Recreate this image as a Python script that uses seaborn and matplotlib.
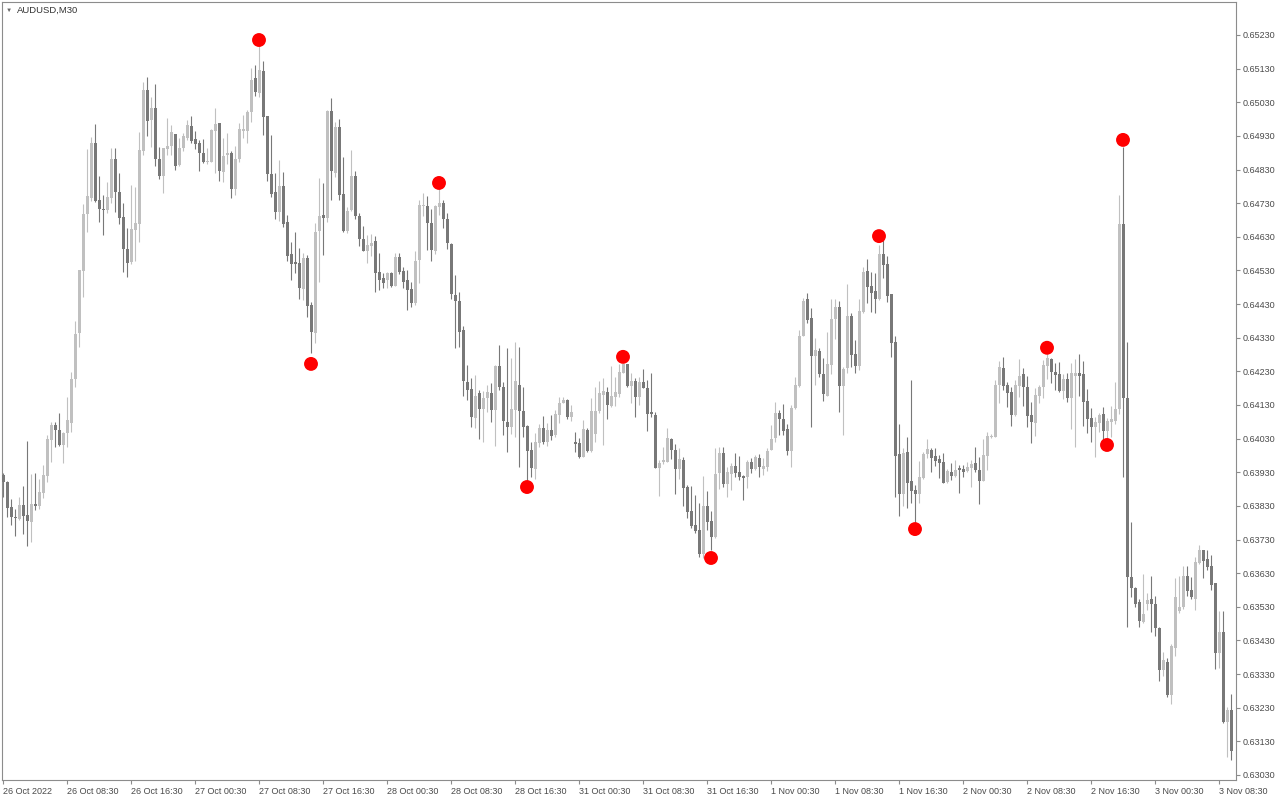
import numpy as np
import pandas as pd
import matplotlib
matplotlib.use("Agg")
import matplotlib.pyplot as plt
import seaborn as sns

symbol_title = "AUDUSD,M30"

time_labels = ["26 Oct 2022", "26 Oct 08:30", "26 Oct 16:30", "27 Oct 00:30", "27 Oct 08:30",
               "27 Oct 16:30", "28 Oct 00:30", "28 Oct 08:30", "28 Oct 16:30", "31 Oct 00:30",
               "31 Oct 08:30", "31 Oct 16:30", "1 Nov 00:30", "1 Nov 08:30", "1 Nov 16:30",
               "2 Nov 00:30", "2 Nov 08:30", "2 Nov 16:30", "3 Nov 00:30", "3 Nov 08:30"]
time_label_bars = [0, 16, 32, 48, 64, 80, 96, 112, 128, 144, 160, 176, 192, 208, 224, 240, 256, 272, 288, 304]

price_ticks = [0.63030, 0.63130, 0.63230, 0.63330, 0.63430, 0.63530, 0.63630, 0.63730,
               0.63830, 0.63930, 0.64030, 0.64130, 0.64230, 0.64330, 0.64430, 0.64530,
               0.64630, 0.64730, 0.64830, 0.64930, 0.65030, 0.65130, 0.65230]

open_ = [
0.63922,0.63901,0.63827,0.63797,0.63791,0.63833,0.63803,0.63782,0.63836,0.63830,
0.63868,0.63919,0.64026,0.64070,0.64056,0.64011,0.64047,0.64076,0.64207,0.64344,
0.64528,0.64698,0.64745,0.64909,0.64739,0.64713,0.64710,0.64745,0.64861,0.64763,
0.64689,0.64594,0.64555,0.64650,0.64668,0.64885,0.65066,0.64977,0.65013,0.64861,
0.64811,0.64891,0.64900,0.64936,0.64844,0.64894,0.64924,0.64959,0.64921,0.64909,
0.64879,0.64852,0.64852,0.64945,0.64968,0.64823,0.64873,0.64879,0.64772,0.64861,
0.64945,0.64945,0.65001,0.65102,0.65058,0.65123,0.64989,0.64817,0.64763,0.64704,
0.64781,0.64674,0.64579,0.64555,0.64552,0.64475,0.64567,0.64427,0.64344,0.64647,
0.64695,0.64686,0.65004,0.64820,0.64956,0.64757,0.64647,0.64710,0.64811,0.64692,
0.64623,0.64588,0.64603,0.64618,0.64525,0.64508,0.64502,0.64522,0.64484,0.64570,
0.64528,0.64502,0.64475,0.64433,0.64561,0.64722,0.64722,0.64671,0.64588,0.64719,
0.64731,0.64683,0.64609,0.64457,0.64439,0.64353,0.64198,0.64178,0.64091,0.64166,
0.64118,0.64151,0.64166,0.64115,0.64246,0.64183,0.64079,0.64065,0.64115,0.64190,
0.64112,0.64068,0.63996,0.63940,0.64017,0.64062,0.64020,0.64056,0.64041,0.64100,
0.64136,0.64145,0.64094,0.64020,0.64017,0.63975,0.64056,0.63993,0.64044,0.64112,
0.64160,0.64169,0.64127,0.64154,0.64163,0.64225,0.64252,0.64186,0.64201,0.64154,
0.64198,0.64181,0.64109,0.64100,0.63943,0.63960,0.63960,0.64029,0.63996,0.63940,
0.63966,0.63886,0.63815,0.63773,0.63758,0.63687,0.63830,0.63785,0.63737,0.63928,
0.63987,0.63895,0.63925,0.63949,0.63931,0.63919,0.63916,0.63960,0.63940,0.63972,
0.63940,0.63946,0.63996,0.64032,0.64106,0.64088,0.64059,0.63993,0.64121,0.64186,
0.64335,0.64445,0.64389,0.64276,0.64291,0.64222,0.64157,0.64249,0.64386,0.64421,
0.64186,0.64240,0.64395,0.64282,0.64246,0.64407,0.64528,0.64484,0.64469,0.64445,
0.64579,0.64549,0.64460,0.64317,0.63984,0.63865,0.63990,0.63904,0.63877,0.63865,
0.63913,0.63984,0.63996,0.63978,0.63969,0.63960,0.63901,0.63931,0.63919,0.63943,
0.63940,0.63934,0.63943,0.63958,0.63937,0.63904,0.63978,0.64035,0.64035,0.64190,
0.64240,0.64190,0.64169,0.64100,0.64186,0.64222,0.64183,0.64100,0.64076,0.64157,
0.64183,0.64246,0.64267,0.64228,0.64222,0.64172,0.64207,0.64151,0.64216,0.64225,
0.64222,0.64142,0.64091,0.64065,0.64076,0.64103,0.64053,0.64079,0.64082,0.64118,
0.64668,0.64151,0.63619,0.63586,0.63544,0.63485,0.63538,0.63553,0.63538,0.63467,
0.63342,0.63366,0.63268,0.63407,0.63518,0.63529,0.63622,0.63580,0.63553,0.63660,
0.63699,0.63672,0.63651,0.63601,0.63393,0.63455,0.63188,0.63223]

high_ = [
0.63928,0.63904,0.63850,0.63821,0.63856,0.63889,0.64023,0.63925,0.63928,0.63910,
0.63952,0.64041,0.64079,0.64079,0.64106,0.64050,0.64154,0.64228,0.64380,0.64531,
0.64728,0.64891,0.64927,0.64965,0.64811,0.64754,0.64793,0.64894,0.64894,0.64820,
0.64731,0.64656,0.64784,0.64778,0.64942,0.65090,0.65105,0.65046,0.65084,0.64897,
0.64894,0.64983,0.64962,0.64936,0.64924,0.64939,0.64977,0.64989,0.64945,0.64918,
0.64921,0.64894,0.64951,0.65013,0.64968,0.64924,0.64939,0.64885,0.64900,0.64968,
0.64992,0.65007,0.65132,0.65141,0.65200,0.65153,0.64989,0.64933,0.64820,0.64858,
0.64823,0.64695,0.64615,0.64644,0.64597,0.64582,0.64576,0.64436,0.64671,0.64805,
0.64790,0.65007,0.65043,0.64971,0.64980,0.64867,0.64719,0.64888,0.64826,0.64701,
0.64662,0.64635,0.64638,0.64632,0.64582,0.64522,0.64525,0.64525,0.64582,0.64582,
0.64540,0.64531,0.64496,0.64588,0.64739,0.64760,0.64751,0.64713,0.64725,0.64775,
0.64739,0.64701,0.64612,0.64516,0.64466,0.64365,0.64249,0.64210,0.64219,0.64175,
0.64172,0.64190,0.64196,0.64249,0.64308,0.64198,0.64299,0.64269,0.64317,0.64302,
0.64183,0.64070,0.64020,0.64047,0.64073,0.64097,0.64076,0.64100,0.64115,0.64154,
0.64154,0.64148,0.64130,0.64050,0.64032,0.64085,0.64062,0.64151,0.64183,0.64201,
0.64210,0.64183,0.64246,0.64213,0.64252,0.64255,0.64252,0.64225,0.64210,0.64213,
0.64237,0.64204,0.64225,0.64109,0.63966,0.64005,0.64062,0.64032,0.64014,0.64002,
0.63975,0.63892,0.63889,0.63862,0.63839,0.63919,0.63874,0.63815,0.64002,0.64005,
0.64005,0.63946,0.63958,0.63987,0.63978,0.63922,0.63966,0.63972,0.63981,0.63984,
0.63972,0.64002,0.64070,0.64139,0.64115,0.64133,0.64073,0.64130,0.64213,0.64353,
0.64448,0.64463,0.64418,0.64329,0.64299,0.64269,0.64347,0.64445,0.64445,0.64439,
0.64243,0.64490,0.64404,0.64323,0.64445,0.64540,0.64564,0.64525,0.64522,0.64606,
0.64621,0.64573,0.64460,0.64335,0.64073,0.64002,0.64035,0.64204,0.63892,0.63963,
0.63990,0.64029,0.64002,0.64002,0.63981,0.63987,0.63940,0.63958,0.63966,0.63952,
0.63952,0.63960,0.63966,0.64005,0.63975,0.64029,0.64050,0.64044,0.64204,0.64261,
0.64273,0.64198,0.64183,0.64204,0.64267,0.64240,0.64216,0.64139,0.64181,0.64190,
0.64264,0.64288,0.64270,0.64255,0.64258,0.64222,0.64225,0.64255,0.64267,0.64282,
0.64261,0.64178,0.64121,0.64094,0.64106,0.64124,0.64091,0.64127,0.64198,0.64754,
0.64897,0.64317,0.63782,0.63589,0.63553,0.63628,0.63571,0.63622,0.63562,0.63470,
0.63396,0.63378,0.63419,0.63616,0.63622,0.63651,0.63651,0.63619,0.63678,0.63714,
0.63699,0.63699,0.63684,0.63601,0.63518,0.63518,0.63232,0.63271]

low_ = [
0.63856,0.63797,0.63773,0.63740,0.63788,0.63746,0.63711,0.63723,0.63818,0.63821,
0.63853,0.63901,0.63960,0.64005,0.64008,0.63958,0.64005,0.64050,0.64183,0.64302,
0.64451,0.64644,0.64736,0.64734,0.64674,0.64635,0.64701,0.64731,0.64704,0.64668,
0.64525,0.64510,0.64549,0.64558,0.64615,0.64873,0.64930,0.64897,0.64841,0.64802,
0.64760,0.64873,0.64873,0.64829,0.64841,0.64885,0.64918,0.64909,0.64891,0.64826,
0.64849,0.64846,0.64852,0.64820,0.64796,0.64793,0.64846,0.64745,0.64754,0.64852,
0.64924,0.64909,0.64971,0.65049,0.65046,0.64933,0.64796,0.64748,0.64683,0.64677,
0.64659,0.64558,0.64502,0.64522,0.64445,0.64442,0.64392,0.64285,0.64314,0.64496,
0.64576,0.64674,0.64739,0.64808,0.64739,0.64644,0.64641,0.64707,0.64683,0.64603,
0.64588,0.64552,0.64573,0.64466,0.64472,0.64478,0.64478,0.64481,0.64484,0.64519,
0.64478,0.64412,0.64421,0.64427,0.64493,0.64692,0.64591,0.64558,0.64579,0.64695,
0.64656,0.64594,0.64445,0.64299,0.64302,0.64157,0.64145,0.64065,0.64062,0.64029,
0.64020,0.64109,0.64079,0.64008,0.64175,0.64041,0.63990,0.64044,0.64035,0.63946,
0.64035,0.63901,0.63916,0.63910,0.64005,0.64014,0.64008,0.64026,0.64035,0.64076,
0.64136,0.64088,0.64082,0.63990,0.63972,0.63975,0.63990,0.63990,0.64020,0.64106,
0.64011,0.64088,0.64124,0.64127,0.64154,0.64225,0.64183,0.64136,0.64094,0.64130,
0.64180,0.64053,0.64094,0.63943,0.63859,0.63955,0.63960,0.63969,0.63865,0.63910,
0.63830,0.63794,0.63764,0.63749,0.63678,0.63675,0.63758,0.63699,0.63734,0.63880,
0.63886,0.63856,0.63877,0.63916,0.63907,0.63848,0.63883,0.63928,0.63937,0.63916,
0.63922,0.63934,0.63996,0.64020,0.64041,0.64041,0.63981,0.63946,0.64118,0.64183,
0.64335,0.64374,0.64065,0.64190,0.64213,0.64142,0.64157,0.64222,0.64326,0.64109,
0.64041,0.64225,0.64243,0.64225,0.64234,0.64404,0.64433,0.64407,0.64404,0.64442,
0.64508,0.64436,0.64273,0.63856,0.63800,0.63830,0.63824,0.63839,0.63779,0.63839,
0.63910,0.63972,0.63931,0.63949,0.63913,0.63898,0.63898,0.63907,0.63916,0.63868,
0.63916,0.63931,0.63886,0.63931,0.63836,0.63904,0.63937,0.64032,0.64035,0.64136,
0.64175,0.64124,0.64068,0.64097,0.64154,0.64127,0.64065,0.64017,0.64038,0.64136,
0.64151,0.64207,0.64196,0.64175,0.64169,0.64148,0.64139,0.64059,0.64005,0.64157,
0.64068,0.64047,0.64020,0.63975,0.64050,0.64020,0.64026,0.64035,0.64073,0.64103,
0.63916,0.63470,0.63559,0.63529,0.63470,0.63482,0.63521,0.63455,0.63443,0.63309,
0.63325,0.63262,0.63241,0.63384,0.63512,0.63524,0.63562,0.63553,0.63521,0.63657,
0.63616,0.63639,0.63580,0.63345,0.63348,0.63185,0.63083,0.63074]

close_ = [
0.63901,0.63824,0.63797,0.63794,0.63833,0.63800,0.63785,0.63836,0.63830,0.63871,
0.63922,0.64029,0.64070,0.64056,0.64011,0.64047,0.64085,0.64207,0.64341,0.64531,
0.64698,0.64751,0.64909,0.64736,0.64713,0.64710,0.64748,0.64861,0.64763,0.64686,
0.64594,0.64552,0.64653,0.64671,0.64888,0.65066,0.64974,0.65013,0.64861,0.64811,
0.64894,0.64900,0.64942,0.64841,0.64894,0.64930,0.64962,0.64915,0.64906,0.64879,
0.64852,0.64855,0.64948,0.64965,0.64826,0.64870,0.64879,0.64772,0.64861,0.64951,
0.64951,0.65001,0.65096,0.65061,0.65126,0.64986,0.64817,0.64757,0.64704,0.64781,
0.64668,0.64573,0.64549,0.64549,0.64478,0.64567,0.64424,0.64347,0.64644,0.64692,
0.64686,0.65004,0.64826,0.64956,0.64754,0.64647,0.64707,0.64811,0.64692,0.64623,
0.64588,0.64606,0.64612,0.64522,0.64502,0.64493,0.64522,0.64484,0.64570,0.64525,
0.64496,0.64472,0.64433,0.64558,0.64725,0.64725,0.64671,0.64591,0.64722,0.64731,
0.64683,0.64612,0.64460,0.64439,0.64347,0.64201,0.64175,0.64094,0.64157,0.64118,
0.64151,0.64169,0.64115,0.64246,0.64183,0.64082,0.64065,0.64118,0.64201,0.64112,
0.64065,0.63993,0.63943,0.64020,0.64062,0.64020,0.64056,0.64038,0.64103,0.64136,
0.64145,0.64094,0.64109,0.64014,0.63975,0.64059,0.63993,0.64112,0.64112,0.64166,
0.64172,0.64130,0.64157,0.64169,0.64228,0.64252,0.64186,0.64201,0.64154,0.64198,
0.64180,0.64103,0.64103,0.63943,0.63958,0.63966,0.64032,0.63996,0.63940,0.63969,
0.63883,0.63812,0.63770,0.63755,0.63687,0.63830,0.63782,0.63737,0.63925,0.63987,
0.63895,0.63931,0.63949,0.63928,0.63916,0.63913,0.63960,0.63940,0.63975,0.63946,
0.63949,0.63993,0.64029,0.64106,0.64088,0.64053,0.63993,0.64121,0.64190,0.64335,
0.64439,0.64383,0.64276,0.64294,0.64222,0.64163,0.64252,0.64386,0.64421,0.64186,
0.64237,0.64395,0.64279,0.64246,0.64410,0.64525,0.64481,0.64463,0.64445,0.64579,
0.64546,0.64454,0.64314,0.63978,0.63865,0.63987,0.63898,0.63874,0.63865,0.63916,
0.63984,0.63999,0.63972,0.63963,0.63958,0.63898,0.63934,0.63919,0.63937,0.63937,
0.63931,0.63946,0.63955,0.63937,0.63904,0.63981,0.64038,0.64038,0.64190,0.64243,
0.64186,0.64166,0.64100,0.64190,0.64216,0.64183,0.64097,0.64079,0.64160,0.64183,
0.64249,0.64270,0.64228,0.64219,0.64172,0.64207,0.64151,0.64225,0.64225,0.64216,
0.64139,0.64088,0.64065,0.64079,0.64100,0.64053,0.64082,0.64088,0.64118,0.64668,
0.64151,0.63619,0.63586,0.63538,0.63488,0.63509,0.63550,0.63538,0.63467,0.63342,
0.63372,0.63268,0.63413,0.63559,0.63529,0.63622,0.63577,0.63559,0.63663,0.63699,
0.63666,0.63648,0.63595,0.63393,0.63455,0.63188,0.63223,0.63101]

signal_bar = [64, 77, 109, 131, 155, 177, 219, 228, 261, 276, 280]
signal_price = [0.65215, 0.64252, 0.64790, 0.63886, 0.64273, 0.63675, 0.64632, 0.63761, 0.64300, 0.64011, 0.64918]

BULL = "#c0c0c0"
BEAR = "#787878"
AXIS = "#8c8c8c"
TEXT = "#4a4a4a"

sns.set_theme(style="white")
plt.rcParams["font.family"] = ["Liberation Sans", "DejaVu Sans"]

df = pd.DataFrame({"open": open_, "high": high_, "low": low_, "close": close_})
df["bar"] = np.arange(len(df))
df["up"] = df["close"] >= df["open"]
colors = np.where(df["up"], BULL, BEAR)

fig = plt.figure(figsize=(12.8, 8), dpi=100, facecolor="white")
ax = fig.add_axes([2 / 1280, 20 / 800, 1234 / 1280, 778 / 800])
ax.set_facecolor("white")

ax.vlines(df["bar"], df["low"], df["high"], colors=colors, linewidth=0.8, zorder=2)
body_bottom = np.minimum(df["open"], df["close"])
body_height = np.maximum((df["close"] - df["open"]).abs(), 0.00003)
ax.bar(df["bar"], body_height, bottom=body_bottom, width=0.75, color=colors,
       linewidth=0, zorder=3)

sig = pd.DataFrame({"bar": signal_bar, "price": signal_price})
sns.scatterplot(data=sig, x="bar", y="price", ax=ax, color="#ff0000", s=100,
                edgecolor="none", linewidth=0, zorder=5, legend=False)

ax.set_xlim(-0.25, 308.25)
ax.set_ylim(0.63015, 0.65328)

ax.yaxis.tick_right()
ax.set_yticks(price_ticks)
ax.set_yticklabels([f"{p:.5f}" for p in price_ticks])
ax.set_xticks(time_label_bars)
ax.set_xticklabels(time_labels, ha="left")
ax.tick_params(axis="both", direction="out", length=3, width=0.8, colors=AXIS,
               labelcolor=TEXT, labelsize=6.5, pad=2)
ax.tick_params(axis="y", right=True, left=False)
ax.tick_params(axis="x", bottom=True)
ax.set_xlabel("")
ax.set_ylabel("")
ax.grid(False)
for s in ax.spines.values():
    s.set_visible(True)
    s.set_color(AXIS)
    s.set_linewidth(0.8)

fig.text(6 / 1280, 1 - 10 / 800, "\u25BC", fontsize=4.5, color="#666666", va="center", ha="left")
fig.text(17 / 1280, 1 - 10 / 800, symbol_title, fontsize=6.8, color="#333333", va="center", ha="left")

fig.savefig("out.png", dpi=100, facecolor="white")
